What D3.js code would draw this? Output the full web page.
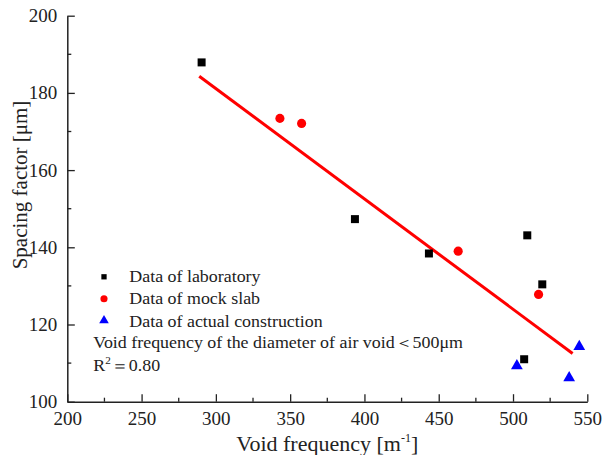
<!DOCTYPE html>
<html><head><meta charset="utf-8">
<script src="https://cdn.jsdelivr.net/npm/d3@7"></script>
<style>body{margin:0;background:#fff}svg{display:block}text{font-family:"Liberation Serif","Times New Roman",serif;fill:#222}</style>
</head><body><svg id="c" width="603" height="455"></svg>
<script>
const labX = [290.4, 393.6, 443.4, 509.6, 519.7, 507.5];
const labY = [187.9, 147.3, 138.4, 143.1, 130.4, 111.0];
const mockX = [343.1, 357.7, 463.1, 517.2];
const mockY = [173.4, 172.1, 139.0, 127.8];
const actX = [502.6, 537.8, 544.6];
const actY = [109.3, 106.2, 114.3];
const fitX = [288.8, 540.1];
const fitY = [184.3, 112.5];
const xTicks = [200, 250, 300, 350, 400, 450, 500, 550];
const yTicks = [100, 120, 140, 160, 180, 200];
const legendLabels = ["Data of laboratory", "Data of mock slab", "Data of actual construction"];
const noteText = "Void frequency of the diameter of air void＜500μm";

const FONT = '"Liberation Serif","Times New Roman",serif';
const svg = d3.select("#c");
const L = 67.3, R = 587.3, T = 15.7, B = 401.7;
const x = d3.scaleLinear().domain([200, 550]).range([L, R]);
const y = d3.scaleLinear().domain([100, 200]).range([B, T]);

// minor ticks
const xMinor = d3.range(225, 550, 50);
const yMinor = d3.range(110, 200, 20);
const g = svg.append("g");
g.selectAll(".xm").data(xMinor).join("line").attr("x1", d => x(d)).attr("x2", d => x(d)).attr("y1", B).attr("y2", B - 4).attr("stroke", "#222").attr("stroke-width", 1.3);
g.selectAll(".ym").data(yMinor).join("line").attr("y1", d => y(d)).attr("y2", d => y(d)).attr("x1", L).attr("x2", L + 4).attr("stroke", "#222").attr("stroke-width", 1.3);

const xAxis = svg.append("g").attr("transform", `translate(0,${B})`)
  .call(d3.axisBottom(x).tickValues(xTicks).tickSizeInner(-7.5).tickSizeOuter(0).tickPadding(14));
const yAxis = svg.append("g").attr("transform", `translate(${L},0)`)
  .call(d3.axisLeft(y).tickValues(yTicks).tickSizeInner(-7.5).tickSizeOuter(0).tickPadding(10));
[xAxis, yAxis].forEach(a => {
  a.attr("font-family", FONT).attr("font-size", 19);
  a.select(".domain").attr("stroke", "#222").attr("stroke-width", 1.5);
  a.selectAll(".tick line").attr("stroke", "#222").attr("stroke-width", 1.3);
  a.selectAll(".tick text").attr("font-family", FONT).attr("font-size", 19).attr("fill", "#222");
});
xAxis.selectAll(".tick text").attr("dy", "0.71em").attr("y", 10);

// axis titles
const xt = svg.append("text").attr("x", (L + R) / 2).attr("y", 451).attr("text-anchor", "middle").attr("font-family", FONT).attr("font-size", 22);
xt.append("tspan").text("Void frequency [m");
xt.append("tspan").text("-1").attr("font-size", 12).attr("dy", -9);
xt.append("tspan").text("]").attr("dy", 9);
svg.append("text").attr("transform", "translate(27,185) rotate(-90)").attr("text-anchor", "middle").attr("font-family", FONT).attr("font-size", 21).text("Spacing factor [μm]");

// fit line
svg.append("line").attr("x1", x(fitX[0])).attr("y1", y(fitY[0])).attr("x2", x(fitX[1])).attr("y2", y(fitY[1]))
  .attr("stroke", "#ff0000").attr("stroke-width", 3);

const sq = d3.symbol().type(d3.symbolSquare).size(64);
const ci = d3.symbol().type(d3.symbolCircle).size(66);
const tr = d3.symbol().type(d3.symbolTriangle).size(60);
svg.selectAll(".lab").data(labX).join("path").attr("d", sq).attr("fill", "#000").attr("transform", (d, i) => `translate(${x(d)},${y(labY[i])})`);
svg.selectAll(".mock").data(mockX).join("path").attr("d", ci).attr("fill", "#ff0000").attr("transform", (d, i) => `translate(${x(d)},${y(mockY[i])})`);
svg.selectAll(".act").data(actX).join("path").attr("d", tr).attr("fill", "#0000ff").attr("transform", (d, i) => `translate(${x(d)},${y(actY[i])})`);

// legend
const lgSyms = [d3.symbol().type(d3.symbolSquare).size(28), d3.symbol().type(d3.symbolCircle).size(40), d3.symbol().type(d3.symbolTriangle).size(40)];
const lgCols = ["#000", "#ff0000", "#0000ff"];
const lgY = [276.8, 298.8, 320.5];
const lgBase = [281.7, 304.3, 326.5];
const SX = 1.12;
legendLabels.forEach((t, i) => {
  svg.append("path").attr("d", lgSyms[i]).attr("fill", lgCols[i]).attr("transform", `translate(104,${lgY[i]})`);
  svg.append("text").attr("transform", `translate(129.3,${lgBase[i]}) scale(${SX},1)`).attr("font-family", FONT).attr("font-size", 16).text(t);
});
svg.append("text").attr("transform", `translate(93.3,348.3) scale(${SX},1)`).attr("font-family", FONT).attr("font-size", 16).text(noteText);
const r2 = svg.append("text").attr("transform", `translate(93.3,371) scale(${SX},1)`).attr("font-family", FONT).attr("font-size", 16);
r2.append("tspan").text("R");
r2.append("tspan").text("2").attr("font-size", 10).attr("dy", -7);
r2.append("tspan").text("＝0.80").attr("dy", 7);
</script></body></html>
